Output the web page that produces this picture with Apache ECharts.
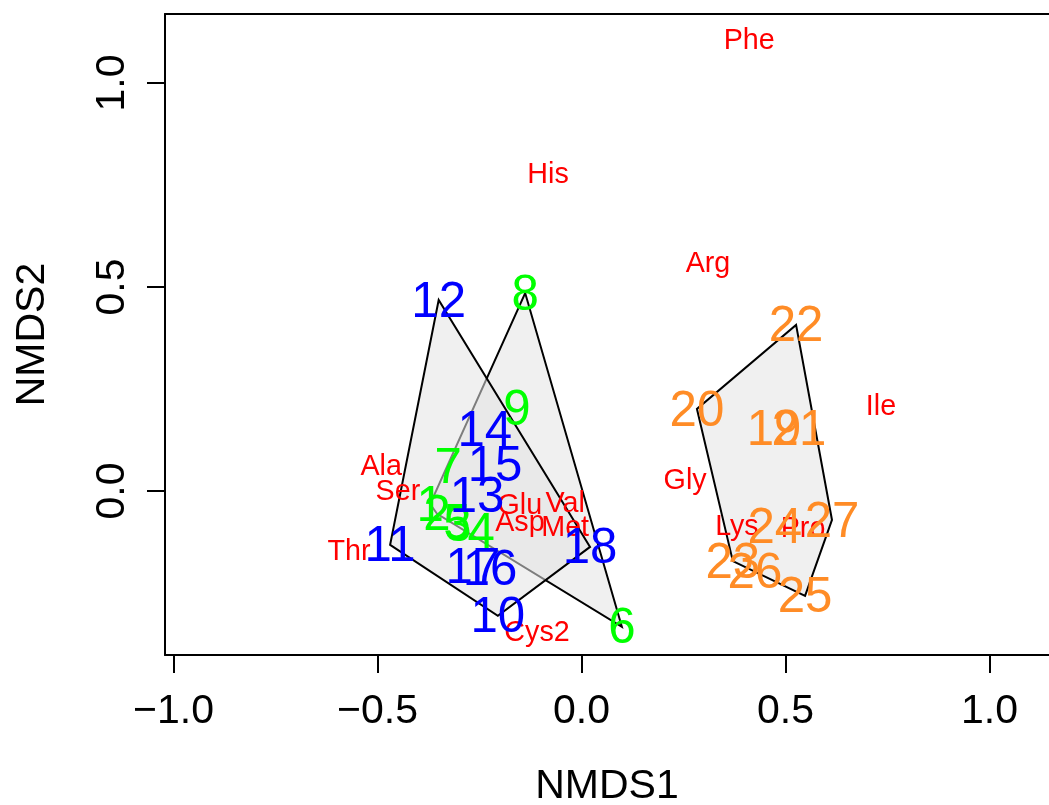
<!DOCTYPE html>
<html>
<head>
<meta charset="utf-8">
<script src="https://cdn.jsdelivr.net/npm/echarts@6/dist/echarts.min.js"></script>
<style>
html,body{margin:0;padding:0;background:#fff;}
#chart{width:1049px;height:805px;}
</style>
</head>
<body>
<div id="chart"></div>
<script>
// ---- data ----
const sampleIds = [1,2,3,4,5,6,7,8,9,10,11,12,13,14,15,16,17,18,19,20,21,22,23,24,25,26,27];
const sampleX = [-0.371,-0.354,-0.303,-0.246,-0.305,0.099,-0.327,-0.138,-0.158,
                 -0.205,-0.469,-0.350,-0.256,-0.237,-0.212,-0.224,-0.266,0.021,
                 0.472,0.283,0.533,0.526,0.371,0.474,0.548,0.425,0.614];
const sampleY = [-0.032,-0.056,-0.081,-0.098,-0.078,-0.333,0.061,0.485,0.203,
                 -0.306,-0.132,0.468,-0.010,0.152,0.064,-0.191,-0.186,-0.137,
                 0.154,0.201,0.154,0.407,-0.172,-0.088,-0.257,-0.196,-0.071];
const sampleGroup = [0,0,0,0,0,0,0,0,0, 1,1,1,1,1,1,1,1,1, 2,2,2,2,2,2,2,2,2];
const groupNames = ['G1','G2','G3'];

const speciesNames = ['Phe','His','Arg','Ile','Gly','Ala','Ser','Thr','Glu','Val','Asp','Met','Lys','Pro','Cys2'];
const speciesX = [0.411,-0.082,0.310,0.734,0.254,-0.491,-0.450,-0.570,-0.151,-0.040,-0.151,-0.040,0.381,0.543,-0.109];
const speciesY = [1.110,0.782,0.564,0.213,0.032,0.066,0.005,-0.142,-0.029,-0.025,-0.071,-0.083,-0.081,-0.086,-0.341];

const xTicks = [-1.0,-0.5,0.0,0.5,1.0];
const yTicks = [0.0,0.5,1.0];
const xTitle = 'NMDS1';
const yTitle = 'NMDS2';
const xRange = [-1.0208, 1.1459];
const yRange = [-0.402, 1.169];

// ---- styles ----
const groupColors = ['#00FF00','#0000FF','#FF8C26'];
const FONT = '"Liberation Sans", Arial, Helvetica, sans-serif';
const LINE = { color: '#000', width: 2 };
const TEXT_DY = 3; // R centres text slightly lower than canvas 'middle'

function fmt(v){ return v.toFixed(1).replace('-', '\u2212'); }

// convex hull (monotone chain) of each group's points
function convexHull(pts){
  const p = pts.slice().sort((a,b)=> a[0]-b[0] || a[1]-b[1]);
  if (p.length < 3) return p;
  const cross = (o,a,b)=> (a[0]-o[0])*(b[1]-o[1]) - (a[1]-o[1])*(b[0]-o[0]);
  const lower = [];
  for (const q of p){ while (lower.length>=2 && cross(lower[lower.length-2], lower[lower.length-1], q) <= 0) lower.pop(); lower.push(q); }
  const upper = [];
  for (let i=p.length-1;i>=0;i--){ const q=p[i]; while (upper.length>=2 && cross(upper[upper.length-2], upper[upper.length-1], q) <= 0) upper.pop(); upper.push(q); }
  upper.pop(); lower.pop();
  return lower.concat(upper);
}
const hulls = groupNames.map((g,gi)=>{
  const pts = [];
  sampleIds.forEach((id,i)=>{ if (sampleGroup[i]===gi) pts.push([sampleX[i], sampleY[i]]); });
  return convexHull(pts);
});

const chart = echarts.init(document.getElementById('chart'), null, {renderer:'canvas'});

const option = {
  animation: false,
  backgroundColor: '#ffffff',
  grid: { left: 165, top: 14, bottom: 150, right: 0, show: false, containLabel: false, outerBoundsMode: 'none' },
  xAxis: [{
    type: 'value', position: 'bottom',
    min: xRange[0], max: xRange[1],
    name: xTitle, nameLocation: 'middle', nameGap: 111,
    nameTextStyle: { fontFamily: FONT, fontSize: 41, color: '#000' },
    axisLine: { show: true, onZero: false, lineStyle: LINE },
    axisTick: { show: true, length: 18, lineStyle: LINE, customValues: xTicks },
    axisLabel: { show: true, margin: 36, fontFamily: FONT, fontSize: 41, color: '#000', customValues: xTicks, formatter: fmt },
    splitLine: { show: false }
  }, {
    type: 'value', position: 'top',
    min: xRange[0], max: xRange[1],
    axisLine: { show: true, onZero: false, lineStyle: LINE },
    axisTick: { show: false }, axisLabel: { show: false }, splitLine: { show: false }
  }],
  yAxis: {
    type: 'value', position: 'left',
    min: yRange[0], max: yRange[1],
    name: yTitle, nameLocation: 'middle', nameGap: 112, nameRotate: 90,
    nameTextStyle: { fontFamily: FONT, fontSize: 41, color: '#000' },
    axisLine: { show: true, onZero: false, lineStyle: LINE },
    axisTick: { show: true, length: 18, lineStyle: LINE, customValues: yTicks },
    axisLabel: { show: true, margin: 32, rotate: 90, fontFamily: FONT, fontSize: 41, color: '#000', customValues: yTicks, formatter: fmt },
    splitLine: { show: false }
  },
  series: [
    {
      type: 'custom', name: 'hulls', coordinateSystem: 'cartesian2d',
      data: groupNames.map((g,i)=>[i]),
      encode: { x: -1, y: -1 },
      silent: true, clip: false,
      renderItem: function(params, api){
        const gi = api.value(0);
        const pts = hulls[gi].map(p => api.coord(p));
        return {
          type: 'polygon',
          shape: { points: pts },
          style: { fill: 'rgba(228,228,228,0.55)', stroke: '#000', lineWidth: 2 }
        };
      }
    },
    {
      type: 'custom', name: 'species', coordinateSystem: 'cartesian2d',
      data: speciesNames.map((n,i)=>[speciesX[i], speciesY[i], i]),
      silent: true, clip: false,
      renderItem: function(params, api){
        const pt = api.coord([api.value(0), api.value(1)]);
        const i = api.value(2);
        return {
          type: 'text', x: pt[0], y: pt[1] + TEXT_DY,
          style: { text: speciesNames[i], fill: '#FF0000', fontSize: 28.7, fontFamily: FONT, align: 'center', verticalAlign: 'middle' }
        };
      }
    },
    {
      type: 'custom', name: 'samples', coordinateSystem: 'cartesian2d',
      data: sampleIds.map((id,i)=>[sampleX[i], sampleY[i], i]),
      silent: true, clip: false,
      renderItem: function(params, api){
        const pt = api.coord([api.value(0), api.value(1)]);
        const i = api.value(2);
        return {
          type: 'text', x: pt[0], y: pt[1] + TEXT_DY,
          style: { text: String(sampleIds[i]), fill: groupColors[sampleGroup[i]], fontSize: 49.2, fontFamily: FONT, align: 'center', verticalAlign: 'middle' }
        };
      }
    }
  ]
};
chart.setOption(option);
</script>
</body>
</html>
